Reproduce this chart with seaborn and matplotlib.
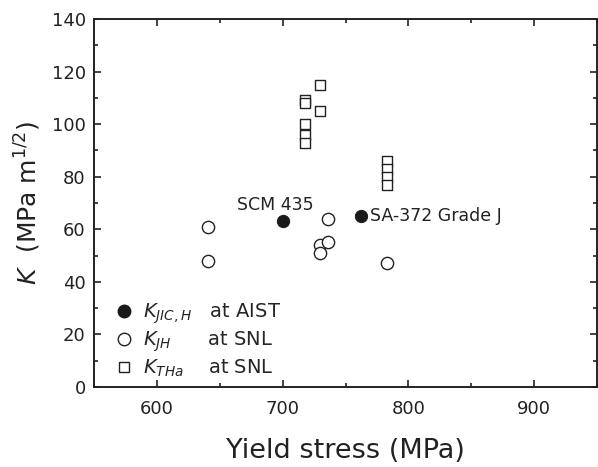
import matplotlib
matplotlib.use("Agg")
import matplotlib.pyplot as plt
import seaborn as sns
import pandas as pd
from matplotlib.lines import Line2D
from matplotlib.ticker import MultipleLocator

# data
aist_x = [700, 762]
aist_k = [63, 65]
aist_names = ["SCM 435", "SA-372 Grade J"]

jh_x = [641, 641, 736, 730, 736, 730, 783]
jh_k = [61, 48, 64, 54, 55, 51, 47]

tha_x = [730, 718, 718, 730, 718, 718, 718, 783, 783, 783, 783]
tha_k = [115, 109, 108, 105, 100, 96, 93, 86, 83, 80, 77]

sns.set_theme(style="ticks")
plt.rcParams['font.family'] = ['DejaVu Sans']
plt.rcParams['mathtext.fontset'] = 'dejavusans'

aist = pd.DataFrame({"x": aist_x, "k": aist_k})
jh = pd.DataFrame({"x": jh_x, "k": jh_k})
tha = pd.DataFrame({"x": tha_x, "k": tha_k})

fig = plt.figure(figsize=(5.98, 4.67), dpi=100)
ax = fig.add_axes([94/598, 80/467, 503/598, 368/467])

sns.scatterplot(data=tha, x="x", y="k", marker="s", s=60, facecolor="white",
                edgecolor="#222222", linewidth=1.0, ax=ax, zorder=3)
sns.scatterplot(data=jh, x="x", y="k", marker="o", s=78, facecolor="white",
                edgecolor="#222222", linewidth=1.0, ax=ax, zorder=3)
sns.scatterplot(data=aist, x="x", y="k", marker="o", s=78, color="#1a1a1a",
                edgecolor="#1a1a1a", ax=ax, zorder=4)

ax.annotate(aist_names[0], (aist_x[0], aist_k[0]), xytext=(-33, 8.5),
            textcoords="offset points", fontsize=12.5, color="#222222")
ax.annotate(aist_names[1], (aist_x[1], aist_k[1]), xytext=(6.5, 0),
            textcoords="offset points", fontsize=12.5, va="center", color="#222222")

ax.set_xlim(550, 950)
ax.set_ylim(0, 140)
ax.xaxis.set_major_locator(MultipleLocator(100))
ax.xaxis.set_minor_locator(MultipleLocator(50))
ax.yaxis.set_major_locator(MultipleLocator(20))
ax.yaxis.set_minor_locator(MultipleLocator(10))
ax.tick_params(which="both", direction="in", top=True, right=True,
               width=1.2, colors="#222222", labelsize=13)
ax.tick_params(axis="x", pad=9)
ax.tick_params(axis="y", pad=6)
ax.tick_params(which="major", length=5)
ax.tick_params(which="minor", length=3)
for sp in ax.spines.values():
    sp.set_linewidth(1.4)
    sp.set_color("#222222")

ax.set_xlabel("Yield stress (MPa)", fontsize=19.5, labelpad=15, color="#222222")
ax.set_ylabel(r"$K$  (MPa m$^{1/2}$)", fontsize=18, labelpad=6, color="#222222")

handles = [
    Line2D([], [], marker="o", ls="", ms=9, mfc="#1a1a1a", mec="#1a1a1a"),
    Line2D([], [], marker="o", ls="", ms=9, mfc="white", mec="#222222", mew=1.0),
    Line2D([], [], marker="s", ls="", ms=7, mfc="white", mec="#222222", mew=1.0),
]
labels = [r"$K_{JIC,H}$   at AIST", r"$K_{JH}$      at SNL", r"$K_{THa}$    at SNL"]
ax.legend(handles, labels, loc="lower left", frameon=False, fontsize=14,
          handletextpad=0.4, labelspacing=0.2, borderaxespad=0.0,
          handlelength=1.2, bbox_to_anchor=(0.02, 0.0))

fig.savefig("out.png", dpi=100)
